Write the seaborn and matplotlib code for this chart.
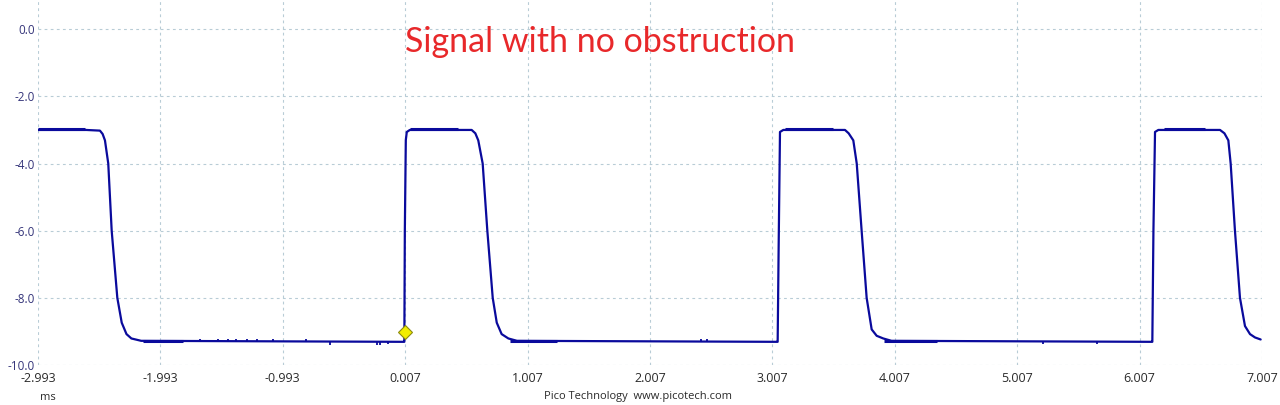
import numpy as np
import pandas as pd
import matplotlib
matplotlib.use("Agg")
from matplotlib import pyplot as plt
import seaborn as sns

sns.set_style("white")
plt.rcParams['font.family'] = ['Open Sans', 'DejaVu Sans']

# waveform vertices (time in ms, level in V)
wave_t = [-2.993, -2.60, -2.487, -2.465, -2.446, -2.419, -2.391, -2.345, -2.309, -2.270, -2.230, -2.15,
          -0.004, 0.000, 0.004, 0.012, 0.020, 0.045,
          0.550, 0.580, 0.604, 0.640, 0.678, 0.722, 0.755, 0.795, 0.850, 0.920,
          3.046, 3.050, 3.058, 3.069, 3.096,
          3.600, 3.630, 3.668, 3.696, 3.736, 3.777, 3.818, 3.859, 3.913, 3.980,
          6.106, 6.111, 6.120, 6.133, 6.160,
          6.664, 6.700, 6.732, 6.751, 6.786, 6.827, 6.868, 6.909, 6.950, 6.996]
wave_v = [-3.00, -3.00, -3.02, -3.12, -3.31, -4.00, -6.00, -8.00, -8.74, -9.08, -9.21, -9.28,
          -9.31, -9.31, -6.00, -3.30, -3.06, -3.00,
          -3.00, -3.10, -3.31, -4.00, -6.00, -8.00, -8.74, -9.08, -9.21, -9.28,
          -9.31, -9.31, -6.50, -3.06, -3.00,
          -3.00, -3.10, -3.31, -4.00, -6.00, -8.00, -8.94, -9.13, -9.21, -9.28,
          -9.31, -9.31, -6.00, -3.06, -3.00,
          -3.00, -3.10, -3.31, -4.00, -6.00, -8.00, -8.84, -9.08, -9.18, -9.24]

# small glitches on the low level
glitch_t = [-1.670, -1.522, -1.441, -1.375, -1.285, -1.204, -1.073, -0.803, -0.607, -0.223, -0.199, -0.134,
            2.42, 2.47, 5.22, 5.66]
glitch_v = [-9.22, -9.24, -9.24, -9.23, -9.23, -9.23, -9.24, -9.24, -9.40, -9.39, -9.39, -9.38,
            -9.24, -9.24, -9.38, -9.38]

# noisy stretches of the trace (start, end, level)
fuzz_t0 = [-2.993, 0.05, 3.11, 6.21, -2.135, 0.86, 3.92]
fuzz_t1 = [-2.610, 0.44, 3.50, 6.54, -1.810, 1.25, 4.35]
fuzz_v = [-2.975, -2.975, -2.975, -2.975, -9.285, -9.285, -9.285]

trigger_t, trigger_v = 0.007, -9.03

xticks = [-2.993, -1.993, -0.993, 0.007, 1.007, 2.007, 3.007, 4.007, 5.007, 6.007, 7.007]
yticks = [0.0, -2.0, -4.0, -6.0, -8.0, -10.0]

trace = "#0a0a9c"
df = pd.DataFrame({"t": wave_t, "v": wave_v})

fig = plt.figure(figsize=(12.8, 4.05), dpi=100)
ax = fig.add_axes([38 / 1280, 1 - 365 / 405, (1262 - 38) / 1280, 365 / 405])

ax.hlines(fuzz_v, fuzz_t0, fuzz_t1, color=trace, linewidth=2.2, zorder=3)
ax.vlines(glitch_t, -9.31, glitch_v, color=trace, linewidth=1.3, zorder=3)
sns.lineplot(data=df, x="t", y="v", sort=False, estimator=None, color=trace, linewidth=1.6, ax=ax, zorder=4)
ax.plot([trigger_t], [trigger_v], marker="D", markersize=7.5, color="#f2ee00", markeredgecolor="#8c8a10",
        markeredgewidth=0.8, zorder=5)

ax.set_xlim(-2.993, 7.007)
ax.set_ylim(-10.0, 0.87)
ax.set_xticks(xticks)
ax.set_xticklabels([f"{x:.3f}" for x in xticks])
ax.set_yticks(yticks)
ax.set_yticklabels([f"{y:.1f}" for y in yticks])
ax.grid(True, color="#b8ccd6", linestyle=(0, (2.5, 3)), linewidth=0.8)
for s in ax.spines.values():
    s.set_visible(False)
ax.tick_params(axis="x", length=0, pad=5, labelsize=9, labelcolor="#2a2a2a")
ax.tick_params(axis="y", length=0, pad=2, labelsize=8.5, labelcolor="#35357a")
ax.set_xlabel("")
ax.set_ylabel("")

fig.text(405 / 1280, 1 - 42 / 405, "Signal with no obstruction", color="#e8282a", fontsize=24.5,
         family=["Lato", "DejaVu Sans"], ha="left", va="center")
fig.text(48 / 1280, 1 - 397 / 405, "ms", fontsize=8, color="#2a2a2a", ha="center", va="center")
fig.text(638 / 1280, 1 - 397 / 405, "Pico Technology  www.picotech.com", fontsize=8, color="#2a2a2a",
         ha="center", va="center")

fig.savefig("out.png", dpi=100)
